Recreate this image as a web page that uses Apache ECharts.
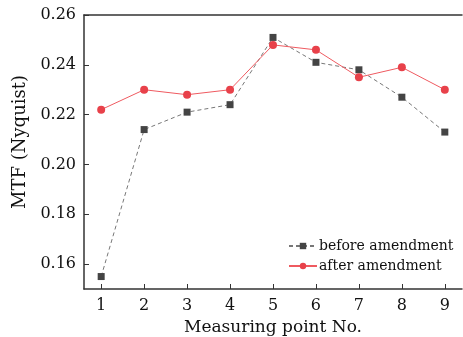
<!DOCTYPE html>
<html>
<head>
<meta charset="utf-8">
<script src="https://cdn.jsdelivr.net/npm/echarts@6/dist/echarts.min.js"></script>
<style>
html,body{margin:0;padding:0;background:#fff;}
#chart{width:463px;height:337px;}
</style>
</head>
<body>
<div id="chart"></div>
<script>
// 数据
var points = [1, 2, 3, 4, 5, 6, 7, 8, 9];
var before = [0.155, 0.214, 0.221, 0.224, 0.251, 0.241, 0.238, 0.227, 0.213];
var after = [0.222, 0.230, 0.228, 0.230, 0.248, 0.246, 0.235, 0.239, 0.230];
var yTicks = [0.16, 0.18, 0.20, 0.22, 0.24, 0.26];

var font = 'DejaVu Serif';
var axisColor = '#333';

function pairs(vals){
    return points.map(function(p, i){ return [p, vals[i]]; });
}

var myChart = echarts.init(document.getElementById('chart'));
var myoption = {
    animation: false,
    grid: {left: 84, right: 1, top: 15, bottom: 48, outerBoundsMode: 'none', containLabel: false},
    legend: {
        orient: 'vertical',
        left: 283,
        top: 234,
        itemWidth: 28,
        itemHeight: 8,
        itemGap: 6,
        textStyle: {fontFamily: font, fontSize: 14, color: '#111', padding: [0, 0, 0, -3]},
        data: ['before amendment', 'after amendment']
    },
    xAxis: [{
        type: 'value',
        min: 0.6,
        max: 9.4,
        name: 'Measuring point No.',
        nameLocation: 'middle',
        nameGap: 23,
        nameTextStyle: {fontFamily: font, fontSize: 17, color: '#111'},
        splitLine: {show: false},
        axisLine: {lineStyle: {color: axisColor, width: 1.5}},
        axisTick: {inside: true, length: 5, customValues: points, lineStyle: {color: axisColor}},
        axisLabel: {customValues: points, fontFamily: font, fontSize: 16, color: '#111', margin: 9}
    }, {
        type: 'value',
        position: 'top',
        min: 0.6,
        max: 9.4,
        splitLine: {show: false},
        axisLine: {lineStyle: {color: axisColor, width: 1.5}},
        axisTick: {show: false},
        axisLabel: {show: false}
    }],
    yAxis: {
        type: 'value',
        min: 0.15,
        max: 0.26,
        name: 'MTF (Nyquist)',
        nameLocation: 'middle',
        nameGap: 52,
        nameTextStyle: {fontFamily: font, fontSize: 18, color: '#111', padding: [0, 0, 0, 20]},
        splitLine: {show: false},
        axisLine: {show: true, lineStyle: {color: axisColor, width: 1.5}},
        axisTick: {show: true, inside: true, length: 5, customValues: yTicks, lineStyle: {color: axisColor}},
        axisLabel: {
            customValues: yTicks,
            fontFamily: font, fontSize: 16, color: '#111', margin: 8,
            formatter: function(v){ return v.toFixed(2); }
        }
    },
    series: [{
        name: 'before amendment',
        type: 'line',
        data: pairs(before),
        symbol: 'rect',
        symbolSize: 7,
        itemStyle: {color: '#444'},
        lineStyle: {color: '#777', width: 1, type: [4, 3]}
    }, {
        name: 'after amendment',
        type: 'line',
        data: pairs(after),
        symbol: 'circle',
        symbolSize: 8,
        itemStyle: {color: '#e8414a'},
        lineStyle: {color: '#ef5a60', width: 1}
    }]
};
myChart.setOption(myoption);

window.onresize = function(){
    myChart.resize();
}
</script>
</body>
</html>
